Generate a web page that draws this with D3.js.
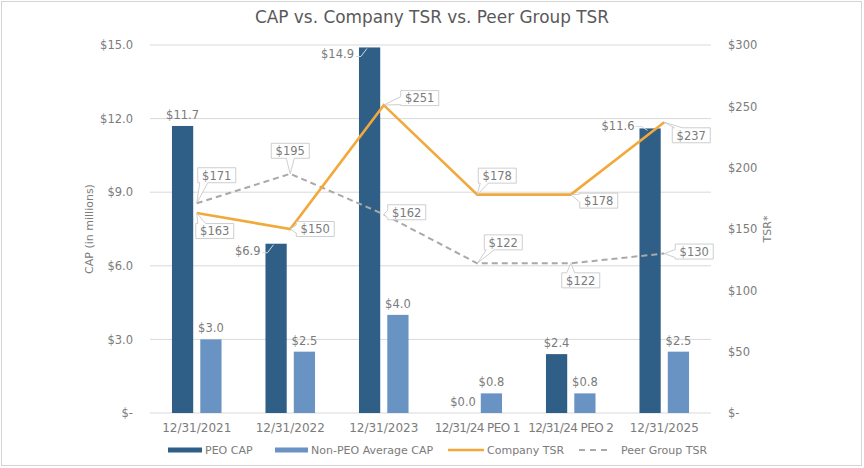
<!DOCTYPE html>
<html>
<head>
<meta charset="utf-8">
<script src="https://cdn.jsdelivr.net/npm/d3@7"></script>
<style>
  body { margin: 0; background: #fff; }
  svg { display: block; font-family: 'DejaVu Sans', Verdana, sans-serif; }
</style>
</head>
<body>
<svg id="chart"></svg>
<script>
(function () {
  'use strict';

  const categories = ['12/31/2021', '12/31/2022', '12/31/2023', '12/31/24 PEO 1', '12/31/24 PEO 2', '12/31/2025'];
  const peoCap = [11.7, 6.9, 14.9, 0.0, 2.4, 11.6];
  const nonPeoCap = [3.0, 2.5, 4.0, 0.8, 0.8, 2.5];
  const companyTsr = [163, 150, 251, 178, 178, 237];
  const peerTsr = [171, 195, 162, 122, 122, 130];
  const capTicks = [0, 3, 6, 9, 12, 15];
  const tsrTicks = [0, 50, 100, 150, 200, 250, 300];

  // callout box offsets from the point (box centre), picked by eye
  const companyOffsets = [[18, 18], [25, 0], [36, -7], [20, -19], [28, 6], [27, 13]];
  const peerOffsets = [[20, -28], [0, -23], [23, -2], [26, -21], [10, 17], [30, -2]];

  const width = 864;
  const height = 468;
  const plot = { left: 150, right: 711, top: 45, bottom: 413 };

  const colors = {
    peo: '#2f5f86',
    nonPeo: '#6893c3',
    company: '#f2a93b',
    peer: '#a9a9a9',
    grid: '#d9d9d9',
    text: '#7b7b7b'
  };

  const svg = d3.select('#chart')
    .attr('width', width)
    .attr('height', height);

  svg.append('rect')
    .attr('x', 1.5).attr('y', 1.5)
    .attr('width', 860).attr('height', 464)
    .attr('fill', '#fff')
    .attr('stroke', '#d4d4d4');

  const x = d3.scaleBand()
    .domain(categories)
    .range([plot.left, plot.right]);

  const xSub = d3.scaleBand()
    .domain(['peo', 'nonPeo'])
    .range([x.bandwidth() * 0.235, x.bandwidth() * 0.765])
    .paddingInner(0.25);

  const yCap = d3.scaleLinear().domain([0, 15]).range([plot.bottom, plot.top]);
  const yTsr = d3.scaleLinear().domain([0, 300]).range([plot.bottom, plot.top]);

  const cx = d => x(d) + x.bandwidth() / 2;

  // title
  svg.append('text')
    .attr('x', width / 2)
    .attr('y', 23)
    .attr('text-anchor', 'middle')
    .style('font-size', '16.9px')
    .style('fill', '#595959')
    .text('CAP vs. Company TSR vs. Peer Group TSR');

  // gridlines
  svg.append('g')
    .selectAll('line')
    .data(capTicks)
    .enter()
    .append('line')
      .attr('x1', plot.left)
      .attr('x2', plot.right)
      .attr('y1', d => yCap(d))
      .attr('y2', d => yCap(d))
      .attr('stroke', colors.grid)
      .attr('stroke-width', 1);

  // axes
  const leftAxis = svg.append('g')
    .attr('transform', `translate(${plot.left},0)`)
    .call(d3.axisLeft(yCap)
      .tickValues(capTicks)
      .tickSize(0)
      .tickPadding(17)
      .tickFormat(d => d === 0 ? '$-' : '$' + d.toFixed(1)));

  const rightAxis = svg.append('g')
    .attr('transform', `translate(${plot.right},0)`)
    .call(d3.axisRight(yTsr)
      .tickValues(tsrTicks)
      .tickSize(0)
      .tickPadding(17)
      .tickFormat(d => d === 0 ? '$-' : '$' + d));

  const bottomAxis = svg.append('g')
    .attr('transform', `translate(0,${plot.bottom})`)
    .call(d3.axisBottom(x)
      .tickSize(0)
      .tickPadding(10));

  [leftAxis, rightAxis, bottomAxis].forEach(g => {
    g.select('.domain').remove();
    g.selectAll('text')
      .style('font-family', "'DejaVu Sans', Verdana, sans-serif")
      .style('font-size', '11.5px')
      .style('fill', colors.text);
  });
  bottomAxis.selectAll('text')
    .style('font-size', '12px')
    .style('letter-spacing', d => d.indexOf('PEO') >= 0 ? '-0.6px' : null);

  svg.append('text')
    .attr('transform', `translate(93,${(plot.top + plot.bottom) / 2}) rotate(-90)`)
    .attr('text-anchor', 'middle')
    .style('font-size', '11px')
    .style('fill', colors.text)
    .text('CAP (in millions)');

  svg.append('text')
    .attr('transform', `translate(771,${(plot.top + plot.bottom) / 2}) rotate(-90)`)
    .attr('text-anchor', 'middle')
    .style('font-size', '11px')
    .style('fill', colors.text)
    .text('TSR*');

  // bars
  const bars = categories.map((c, i) => ({ c, peo: peoCap[i], nonPeo: nonPeoCap[i] }));

  const groups = svg.append('g')
    .selectAll('g')
    .data(bars)
    .enter()
    .append('g')
      .attr('transform', d => `translate(${x(d.c)},0)`);

  groups.append('rect')
    .attr('x', xSub('peo'))
    .attr('width', xSub.bandwidth())
    .attr('y', d => yCap(d.peo))
    .attr('height', d => yCap(0) - yCap(d.peo))
    .attr('fill', colors.peo);

  groups.append('rect')
    .attr('x', xSub('nonPeo'))
    .attr('width', xSub.bandwidth())
    .attr('y', d => yCap(d.nonPeo))
    .attr('height', d => yCap(0) - yCap(d.nonPeo))
    .attr('fill', colors.nonPeo);

  // non-peo labels, all above the bar
  groups.append('text')
    .attr('x', xSub('nonPeo') + xSub.bandwidth() / 2)
    .attr('y', d => yCap(d.nonPeo) - 7)
    .attr('text-anchor', 'middle')
    .style('font-size', '11.5px')
    .style('fill', colors.text)
    .text(d => '$' + d.nonPeo.toFixed(1));

  // peo labels: the tall ones sit to the left with a leader line
  const leaderAt = [false, true, true, false, false, true];
  groups.each(function (d, i) {
    const g = d3.select(this);
    const bx = xSub('peo');
    const top = yCap(d.peo);
    const label = '$' + d.peo.toFixed(1);
    if (!leaderAt[i]) {
      g.append('text')
        .attr('x', bx + xSub.bandwidth() / 2)
        .attr('y', top - 7)
        .attr('text-anchor', 'middle')
        .style('font-size', '11.5px')
        .style('fill', colors.text)
        .text(label);
      return;
    }
    const ty = i === 5 ? top : top + 9;
    g.append('path')
      .attr('d', i === 5
        ? `M${bx - 4},${ty - 2}L${bx + 2},${ty - 2}L${bx + 8},${top + 2}`
        : `M${bx - 3},${ty}L${bx + 2},${ty}L${bx + 8},${top + 1}`)
      .attr('fill', 'none')
      .attr('stroke', '#cfd8e3')
      .attr('stroke-width', 1);
    g.append('text')
      .attr('x', bx - 5)
      .attr('y', ty + 2)
      .attr('text-anchor', 'end')
      .style('font-size', '11.5px')
      .style('fill', colors.text)
      .text(label);
  });

  // lines
  const line = d3.line()
    .x((d, i) => cx(categories[i]))
    .y(d => yTsr(d));

  svg.append('path')
    .datum(peerTsr)
    .attr('d', line)
    .attr('fill', 'none')
    .attr('stroke', colors.peer)
    .attr('stroke-width', 2)
    .attr('stroke-dasharray', '6,4');

  svg.append('path')
    .datum(companyTsr)
    .attr('d', line)
    .attr('fill', 'none')
    .attr('stroke', colors.company)
    .attr('stroke-width', 2.6)
    .attr('stroke-linejoin', 'miter');

  // callout: rect with a wedge pointing to the data point
  function calloutPath(px, py, bx, by, w, h) {
    const x0 = bx - w / 2, x1 = bx + w / 2, y0 = by - h / 2, y1 = by + h / 2;
    const rx = (px - bx) / (w / 2), ry = (py - by) / (h / 2);
    const half = 4;
    const clampX = v => Math.max(x0 + 2, Math.min(x1 - 2 - 2 * half, v - half));
    const clampY = v => Math.max(y0 + 1, Math.min(y1 - 1 - 2 * half, v - half));
    if (Math.abs(ry) >= Math.abs(rx)) {
      const a = clampX(px);
      if (ry > 0) {
        return `M${x0},${y0}H${x1}V${y1}H${a + 2 * half}L${px},${py}L${a},${y1}H${x0}Z`;
      }
      return `M${x0},${y0}H${a}L${px},${py}L${a + 2 * half},${y0}H${x1}V${y1}H${x0}Z`;
    }
    const a = clampY(py);
    if (rx > 0) {
      return `M${x0},${y0}H${x1}V${a}L${px},${py}L${x1},${a + 2 * half}V${y1}H${x0}Z`;
    }
    return `M${x0},${y0}H${x1}V${y1}H${x0}V${a + 2 * half}L${px},${py}L${x0},${a}Z`;
  }

  function addCallouts(values, offsets) {
    const g = svg.append('g');
    values.forEach((v, i) => {
      const px = cx(categories[i]);
      const py = yTsr(v);
      const bx = px + offsets[i][0];
      const by = py + offsets[i][1];
      g.append('path')
        .attr('d', calloutPath(px, py, bx, by, 38, 15))
        .attr('fill', '#fff')
        .attr('stroke', '#c2c2c2')
        .attr('stroke-width', 0.8);
      g.append('text')
        .attr('x', bx)
        .attr('y', by + 4.3)
        .attr('text-anchor', 'middle')
        .style('font-size', '11.5px')
        .style('fill', colors.text)
        .text('$' + v);
    });
  }

  addCallouts(peerTsr, peerOffsets);
  addCallouts(companyTsr, companyOffsets);

  // legend
  const legend = svg.append('g').attr('transform', 'translate(0,450)');
  const legendItems = [
    { name: 'PEO CAP', type: 'bar', color: colors.peo, x: 168, w: 34 },
    { name: 'Non-PEO Average CAP', type: 'bar', color: colors.nonPeo, x: 275, w: 33 },
    { name: 'Company TSR', type: 'line', color: colors.company, x: 448, w: 36 },
    { name: 'Peer Group TSR', type: 'dash', color: colors.peer, x: 579, w: 30 }
  ];
  legendItems.forEach(item => {
    if (item.type === 'bar') {
      legend.append('rect')
        .attr('x', item.x).attr('y', -2.5)
        .attr('width', item.w).attr('height', 5)
        .attr('fill', item.color);
    } else {
      legend.append('line')
        .attr('x1', item.x).attr('x2', item.x + item.w)
        .attr('y1', 0).attr('y2', 0)
        .attr('stroke', item.color)
        .attr('stroke-width', item.type === 'line' ? 2.6 : 2)
        .attr('stroke-dasharray', item.type === 'dash' ? '6,5' : null);
    }
    legend.append('text')
      .attr('x', item.x + item.w + (item.type === 'dash' ? 12 : 3))
      .attr('y', 4)
      .style('font-size', '11px')
      .style('fill', colors.text)
      .text(item.name);
  });
}());
</script>
</body>
</html>
